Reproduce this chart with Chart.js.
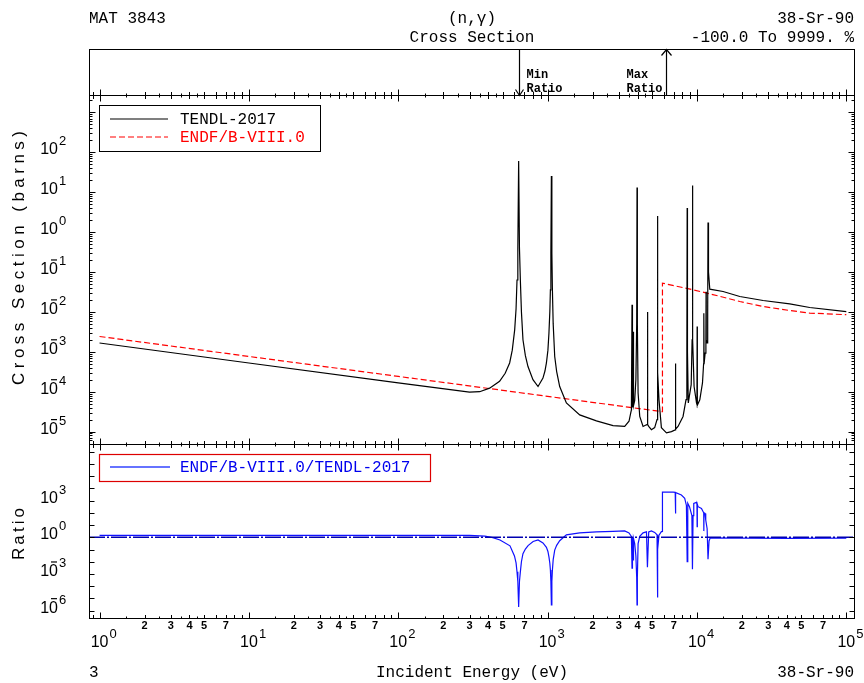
<!DOCTYPE html>
<html>
<head>
<meta charset="utf-8">
<title>38-Sr-90 (n,γ) Cross Section</title>
<script src="https://cdn.jsdelivr.net/npm/chart.js@4"></script>
<style>
  html, body { margin: 0; padding: 0; background: #fff; }
  #chart { display: block; }
</style>
</head>
<body>
<canvas id="chart" width="864" height="683"></canvas>
<script>
// TENDL-2017 capture cross section (eV, barns)
const tendlE = [1, 10, 100, 300, 351, 409, 477, 520, 557, 580, 602, 615, 624, 632, 640, 648, 657, 668, 684,
    710, 739, 798, 863, 931, 960, 982, 1005, 1021, 1035, 1044, 1052, 1060, 1068, 1077, 1090, 1116, 1150,
    1205, 1336, 1641, 2123, 2742, 3283, 3508, 3603, 3640, 3675, 3700, 3733,
    3760, 3830, 3900, 3950, 3970, 3990, 4036, 4140, 4357, 4592, 4630, 4660, 4690, 4753, 4955, 5212, 5403,
    5430, 5453, 5480, 5570, 5780, 6250, 6750, 7150, 7180, 7210, 7470, 8070, 8450, 8560, 8600, 8640, 8750,
    9150, 9280, 9330, 9380, 9570, 9930, 10000, 10030, 10060, 10450, 10890, 11080, 11120, 11160, 11350,
    11480, 11510, 11540, 11690, 11800, 11860, 11950, 12190, 14960, 19360, 27730, 41800, 56900, 100000];
const tendlXs = [1.66e-3, 5.25e-4, 1.66e-4, 9.8e-5, 1.0e-4, 1.23e-4, 1.82e-4, 2.9e-4, 5.25e-4, 1.1e-3,
    3.55e-3, 0.012, 0.063, 0.4, 60, 0.4, 0.063, 0.01, 2e-3,
    8e-4, 4.27e-4, 2.0e-4, 1.35e-4, 2.19e-4, 3.3e-4, 5.25e-4, 1.1e-3, 2.95e-3, 0.01, 0.0355, 0.3, 25.5,
    0.3, 0.0355, 5e-3, 7.6e-4, 3.2e-4,
    1.35e-4, 5.25e-5, 2.63e-5, 1.86e-5, 1.41e-5, 1.35e-5, 1.82e-5, 2.95e-5, 3.5e-5, 0.0151, 4e-5, 3.16e-3,
    4.5e-5, 6e-5, 2e-4, 5e-3, 13, 5e-3, 9.3e-5, 2.4e-5, 1.35e-5, 1.48e-5, 1.5e-5, 0.01, 1.5e-5, 1.35e-5,
    1.12e-5, 1.26e-5, 2e-5,
    3e-4, 2.54, 3e-4, 6.3e-5, 1.26e-5, 9.3e-6, 1e-5, 1.1e-5, 5.1e-4, 1.15e-5, 1.35e-5, 2.4e-5, 6.3e-5,
    1e-3, 4.0, 1e-3, 5.25e-5,
    1.5e-4, 2e-3, 14.6, 2e-3, 1.35e-4, 5.25e-5, 4.8e-5, 4.3e-3, 4.6e-5, 6.3e-5, 1.66e-4, 5e-4, 9.3e-3,
    5e-4, 9.3e-4,
    2e-3, 0.032, 2e-3, 1.66e-3, 0.01, 1.74, 0.1, 0.037, 0.0324, 0.0243, 0.0193, 0.0158, 0.0129, 0.0101];

// ENDF/B-VIII.0
const endfE = [1, 100, 5875, 5875, 9420, 12190, 19360, 27730, 41800, 56900, 100000];
const endfXs = [2.42e-3, 2.42e-4, 3.16e-5, 0.0525, 0.0357, 0.0284, 0.0182, 0.01365, 0.01084, 0.00933, 0.0085];

// ENDF/B-VIII.0 / TENDL-2017 ratio
const ratioE = [1, 300, 380, 430, 480, 560, 600, 615, 624, 632, 640, 648, 657, 668, 684, 710, 740, 800,
    863, 931, 982, 1005, 1021, 1035, 1044, 1052, 1060, 1068, 1077, 1090, 1116, 1150, 1205, 1336, 1641,
    2123, 2742, 3283, 3508, 3603, 3640, 3675, 3700, 3733, 3760, 3830,
    3900, 3950, 3970, 3990, 4036, 4140, 4357, 4592, 4660, 4753, 4955, 5212, 5403, 5430, 5453, 5480, 5570,
    5780, 5875, 5875, 6920, 7150, 7180, 7210, 7870, 8280, 8500, 8600, 8680, 8910, 9250, 9330, 9420, 9520,
    9930, 10000, 10030, 10060, 10170, 10720, 11100, 11120, 11150, 11330, 11450, 11700, 11860, 12050, 12270,
    20000, 40000, 100000];
const ratioVal = [1.46, 1.46, 1.25, 0.95, 0.6, 0.2, 0.03, 8e-3, 1.5e-3, 2.4e-4, 2e-6, 2.4e-4, 1.5e-3, 0.01,
    0.046, 0.11, 0.21, 0.45,
    0.6, 0.35, 0.15, 0.07, 0.025, 7.5e-3, 2.1e-3, 2.5e-4, 3e-6, 2.5e-4, 2.1e-3, 0.015, 0.09, 0.22, 0.52,
    1.6, 2.3,
    2.8, 3.1, 3.3, 2.3, 1.4, 1.2, 3e-3, 1.0, 0.014, 0.8, 0.3,
    0.03, 5e-4, 3e-6, 5e-4, 0.3, 1.2, 2.3, 2.8, 3.5e-3, 2.7, 3.3, 2.5, 1.6, 0.1, 1.2e-5, 0.1, 1.5,
    2.9, 3.0, 5000, 5000, 4800, 90, 4500, 2900, 1550, 400, 0.01, 600, 320, 60, 2.4e-3, 60, 600,
    720, 500, 7.4, 500, 320, 230, 100, 3.2, 100, 90, 26, 5, 0.016, 0.5, 0.9,
    0.85, 0.82, 0.84];

// unity reference line in the ratio panel
const unityE = [0.85, 1.126e5];
const unityVal = [1, 1];

// min / max ratio markers (eV)
const minRatioE = 640;
const maxRatioE = 6200;

// axis ticks and labels
const xDecades = [0, 1, 2, 3, 4, 5];
const xMinorLabels = [2, 3, 4, 5, 7];
const xMinorTicks = [1.5, 2, 2.5, 3, 3.5, 4, 4.5, 5, 6, 7, 8, 9];
const yMainExp = [2, 1, 0, -1, -2, -3, -4, -5];
const yRatioExp = [3, 0, -3, -6];

const MONO = 'Liberation Mono, DejaVu Sans Mono, monospace';
const SANS = 'Liberation Sans, Arial, sans-serif';

function pts(xs, ys) {
    return xs.map((x, i) => ({ x: x, y: ys[i] }));
}

function line(c, x1, y1, x2, y2) {
    c.beginPath();
    c.moveTo(x1, y1);
    c.lineTo(x2, y2);
    c.stroke();
}

// text drawn with the letters spread out over a given length
function spaced(c, text, cx, cy, total, rotate) {
    c.save();
    c.translate(cx, cy);
    if (rotate) c.rotate(-Math.PI / 2);
    const w = c.measureText(text).width;
    const gap = (total - w) / (text.length - 1);
    let x = -total / 2;
    c.textAlign = 'left';
    for (const ch of text) {
        c.fillText(ch, x, 0);
        x += c.measureText(ch).width + gap;
    }
    c.restore();
}

// "10" with a superscript exponent, right edge of "10" at x
function powLabel(c, right, base, exp) {
    c.font = '16px ' + SANS;
    c.textAlign = 'right';
    c.textBaseline = 'alphabetic';
    c.fillText('10', right, base);
    c.font = '13px ' + SANS;
    c.textAlign = 'left';
    c.fillText(String(Math.abs(exp)), right + 1, base - 9);
    if (exp < 0) {
        c.lineWidth = 1.2;
        line(c, right - 7, base - 14, right - 1, base - 14);
    }
}

const decor = {
    id: 'decor',
    afterDraw(chart) {
        const c = chart.ctx;
        const xs = chart.scales.x, ym = chart.scales.y, yr = chart.scales.yRatio;
        const L = Math.round(chart.chartArea.left) + 0.5;
        const R = Math.round(chart.chartArea.right) + 0.5;
        const boxTop = 49.5;
        const mTop = Math.round(ym.top) + 0.5, mBot = Math.round(ym.bottom) + 0.5;
        const rTop = Math.round(yr.top) + 0.5, rBot = Math.round(yr.bottom) + 0.5;

        c.save();
        c.strokeStyle = '#000';
        c.fillStyle = '#000';
        c.lineWidth = 1;

        // frames
        c.strokeRect(L, boxTop, R - L, mTop - boxTop);
        c.strokeRect(L, mTop, R - L, mBot - mTop);
        c.strokeRect(L, rTop, R - L, rBot - rTop);

        // x ticks along every horizontal edge
        const xTicks = [];
        for (let d = -1; d <= 5; d++) {
            const p = Math.pow(10, d);
            xTicks.push([p, 6]);
            xMinorTicks.forEach(m => xTicks.push([m * p, Number.isInteger(m) ? 3.5 : 2]));
        }
        xTicks.forEach(([v, len]) => {
            if (v < xs.min || v > xs.max) return;
            const px = Math.round(xs.getPixelForValue(v)) + 0.5;
            line(c, px, mTop, px, mTop - len);
            line(c, px, mTop, px, mTop + len);
            line(c, px, mBot, px, mBot - len);
            line(c, px, rTop, px, rTop + len);
            line(c, px, rBot, px, rBot - len);
        });

        // y ticks, cross section panel
        for (let k = -6; k <= 3; k++) {
            for (let m = 1; m <= 9; m++) {
                const v = m * Math.pow(10, k);
                if (v < ym.min || v > ym.max) continue;
                const len = m === 1 ? 6 : 3;
                const py = Math.round(ym.getPixelForValue(v)) + 0.5;
                line(c, L, py, L + len, py);
                line(c, R, py, R - len, py);
            }
        }
        // y ticks, ratio panel
        for (let k = -7; k <= 8; k++) {
            const v = Math.pow(10, k);
            if (v < yr.min || v > yr.max) continue;
            const py = Math.round(yr.getPixelForValue(v)) + 0.5;
            line(c, L, py, L + 5, py);
            line(c, R, py, R - 5, py);
        }

        // tick labels
        yMainExp.forEach(e => powLabel(c, 58, ym.getPixelForValue(Math.pow(10, e)) + 2, e));
        yRatioExp.forEach(e => powLabel(c, 58, yr.getPixelForValue(Math.pow(10, e)) + 2, e));
        xDecades.forEach(e => {
            const px = xs.getPixelForValue(Math.pow(10, e));
            c.font = '16px ' + SANS;
            c.textAlign = 'center';
            c.fillText('10', px, 647);
            c.font = '13px ' + SANS;
            c.textAlign = 'left';
            c.fillText(String(e), px + 10, 638);
        });
        c.font = 'bold 11px ' + SANS;
        c.textAlign = 'center';
        for (let d = 0; d < 5; d++) {
            xMinorLabels.forEach(m => {
                c.fillText(String(m), xs.getPixelForValue(m * Math.pow(10, d)), 629);
            });
        }

        // header and footer texts
        c.font = '16px ' + MONO;
        c.textBaseline = 'alphabetic';
        c.textAlign = 'left';
        c.fillText('MAT 3843', 89, 23);
        c.fillText('3', 89, 677);
        c.textAlign = 'center';
        c.fillText('(n,γ)', 472, 23);
        c.fillText('Cross Section', 472, 42);
        c.fillText('Incident Energy (eV)', 472, 677);
        c.textAlign = 'right';
        c.fillText('38-Sr-90', 854, 23);
        c.fillText('-100.0 To 9999. %', 854, 42);
        c.fillText('38-Sr-90', 854, 677);

        // axis titles
        c.font = '17px ' + SANS;
        c.textBaseline = 'middle';
        spaced(c, 'Cross Section (barns)', 19, 258, 254, true);
        spaced(c, 'Ratio', 19, 534, 52, true);

        // min / max ratio arrows
        const xMin = Math.round(xs.getPixelForValue(minRatioE)) + 0.5;
        const xMax = Math.round(xs.getPixelForValue(maxRatioE)) + 0.5;
        line(c, xMin, boxTop, xMin, mTop);
        c.beginPath();
        c.moveTo(xMin - 4, mTop - 6); c.lineTo(xMin, mTop); c.lineTo(xMin + 4, mTop - 6);
        c.stroke();
        line(c, xMax, mTop, xMax, boxTop);
        c.beginPath();
        c.moveTo(xMax - 5, boxTop + 6); c.lineTo(xMax, boxTop); c.lineTo(xMax + 5, boxTop + 6);
        c.stroke();
        c.font = 'bold 12px ' + MONO;
        c.textBaseline = 'alphabetic';
        c.textAlign = 'left';
        c.fillText('Min', xMin + 7, 78);
        c.fillText('Ratio', xMin + 7, 92);
        c.textAlign = 'right';
        c.fillText('Max', xMax - 4 - 7.2 * 2, 78);
        c.fillText('Ratio', xMax - 4, 92);

        // legend, cross section panel
        c.lineWidth = 1;
        c.strokeRect(99.5, 105.5, 221, 46);
        c.lineWidth = 1.2;
        line(c, 110, 119, 168, 119);
        c.strokeStyle = '#ff0000';
        c.setLineDash([6, 3]);
        line(c, 110, 137, 168, 137);
        c.setLineDash([]);
        c.font = '16px ' + MONO;
        c.textAlign = 'left';
        c.textBaseline = 'middle';
        c.fillText('TENDL-2017', 180, 120);
        c.fillStyle = '#ff0000';
        c.fillText('ENDF/B-VIII.0', 180, 138);

        // legend, ratio panel
        c.strokeStyle = '#dd0000';
        c.lineWidth = 1.2;
        c.strokeRect(99.5, 454.5, 331, 27);
        c.strokeStyle = '#3344ff';
        c.lineWidth = 1.5;
        line(c, 110, 467, 170, 467);
        c.fillStyle = '#0000ee';
        c.fillText('ENDF/B-VIII.0/TENDL-2017', 180, 468);

        c.restore();
    }
};

const ctx = document.getElementById('chart').getContext('2d');
const chart = new Chart(ctx, {
    type: 'line',
    data: {
        datasets: [{
            label: 'TENDL-2017',
            data: pts(tendlE, tendlXs),
            yAxisID: 'y',
            borderColor: '#000000',
            borderWidth: 1.2
        }, {
            label: 'ENDF/B-VIII.0',
            data: pts(endfE, endfXs),
            yAxisID: 'y',
            borderColor: '#ff0000',
            borderWidth: 1.2,
            borderDash: [6, 3]
        }, {
            label: 'unity',
            data: pts(unityE, unityVal),
            yAxisID: 'yRatio',
            borderColor: '#0000b0',
            borderWidth: 1.5,
            borderDash: [16, 2, 2, 2]
        }, {
            label: 'ENDF/B-VIII.0/TENDL-2017',
            data: pts(ratioE, ratioVal),
            yAxisID: 'yRatio',
            borderColor: '#1010ff',
            borderWidth: 1.2
        }]
    },
    options: {
        responsive: false,
        animation: false,
        devicePixelRatio: 1,
        layout: { padding: { left: 89, right: 10, top: 95, bottom: 65 } },
        elements: { point: { radius: 0 }, line: { tension: 0 } },
        plugins: { legend: { display: false }, tooltip: { enabled: false } },
        scales: {
            x: { type: 'logarithmic', min: 0.85, max: 1.126e5, display: false },
            // panels stacked top to bottom: cross section, then ratio
            yRatio: {
                type: 'logarithmic', min: Math.pow(10, -6.6), max: Math.pow(10, 7.63),
                display: false, position: 'left', stack: 'panels', stackWeight: 174, weight: 0
            },
            y: {
                type: 'logarithmic', min: Math.pow(10, -5.31), max: Math.pow(10, 3.434),
                display: false, position: 'left', stack: 'panels', stackWeight: 349, weight: 1
            }
        }
    },
    plugins: [decor]
});
</script>
</body>
</html>
